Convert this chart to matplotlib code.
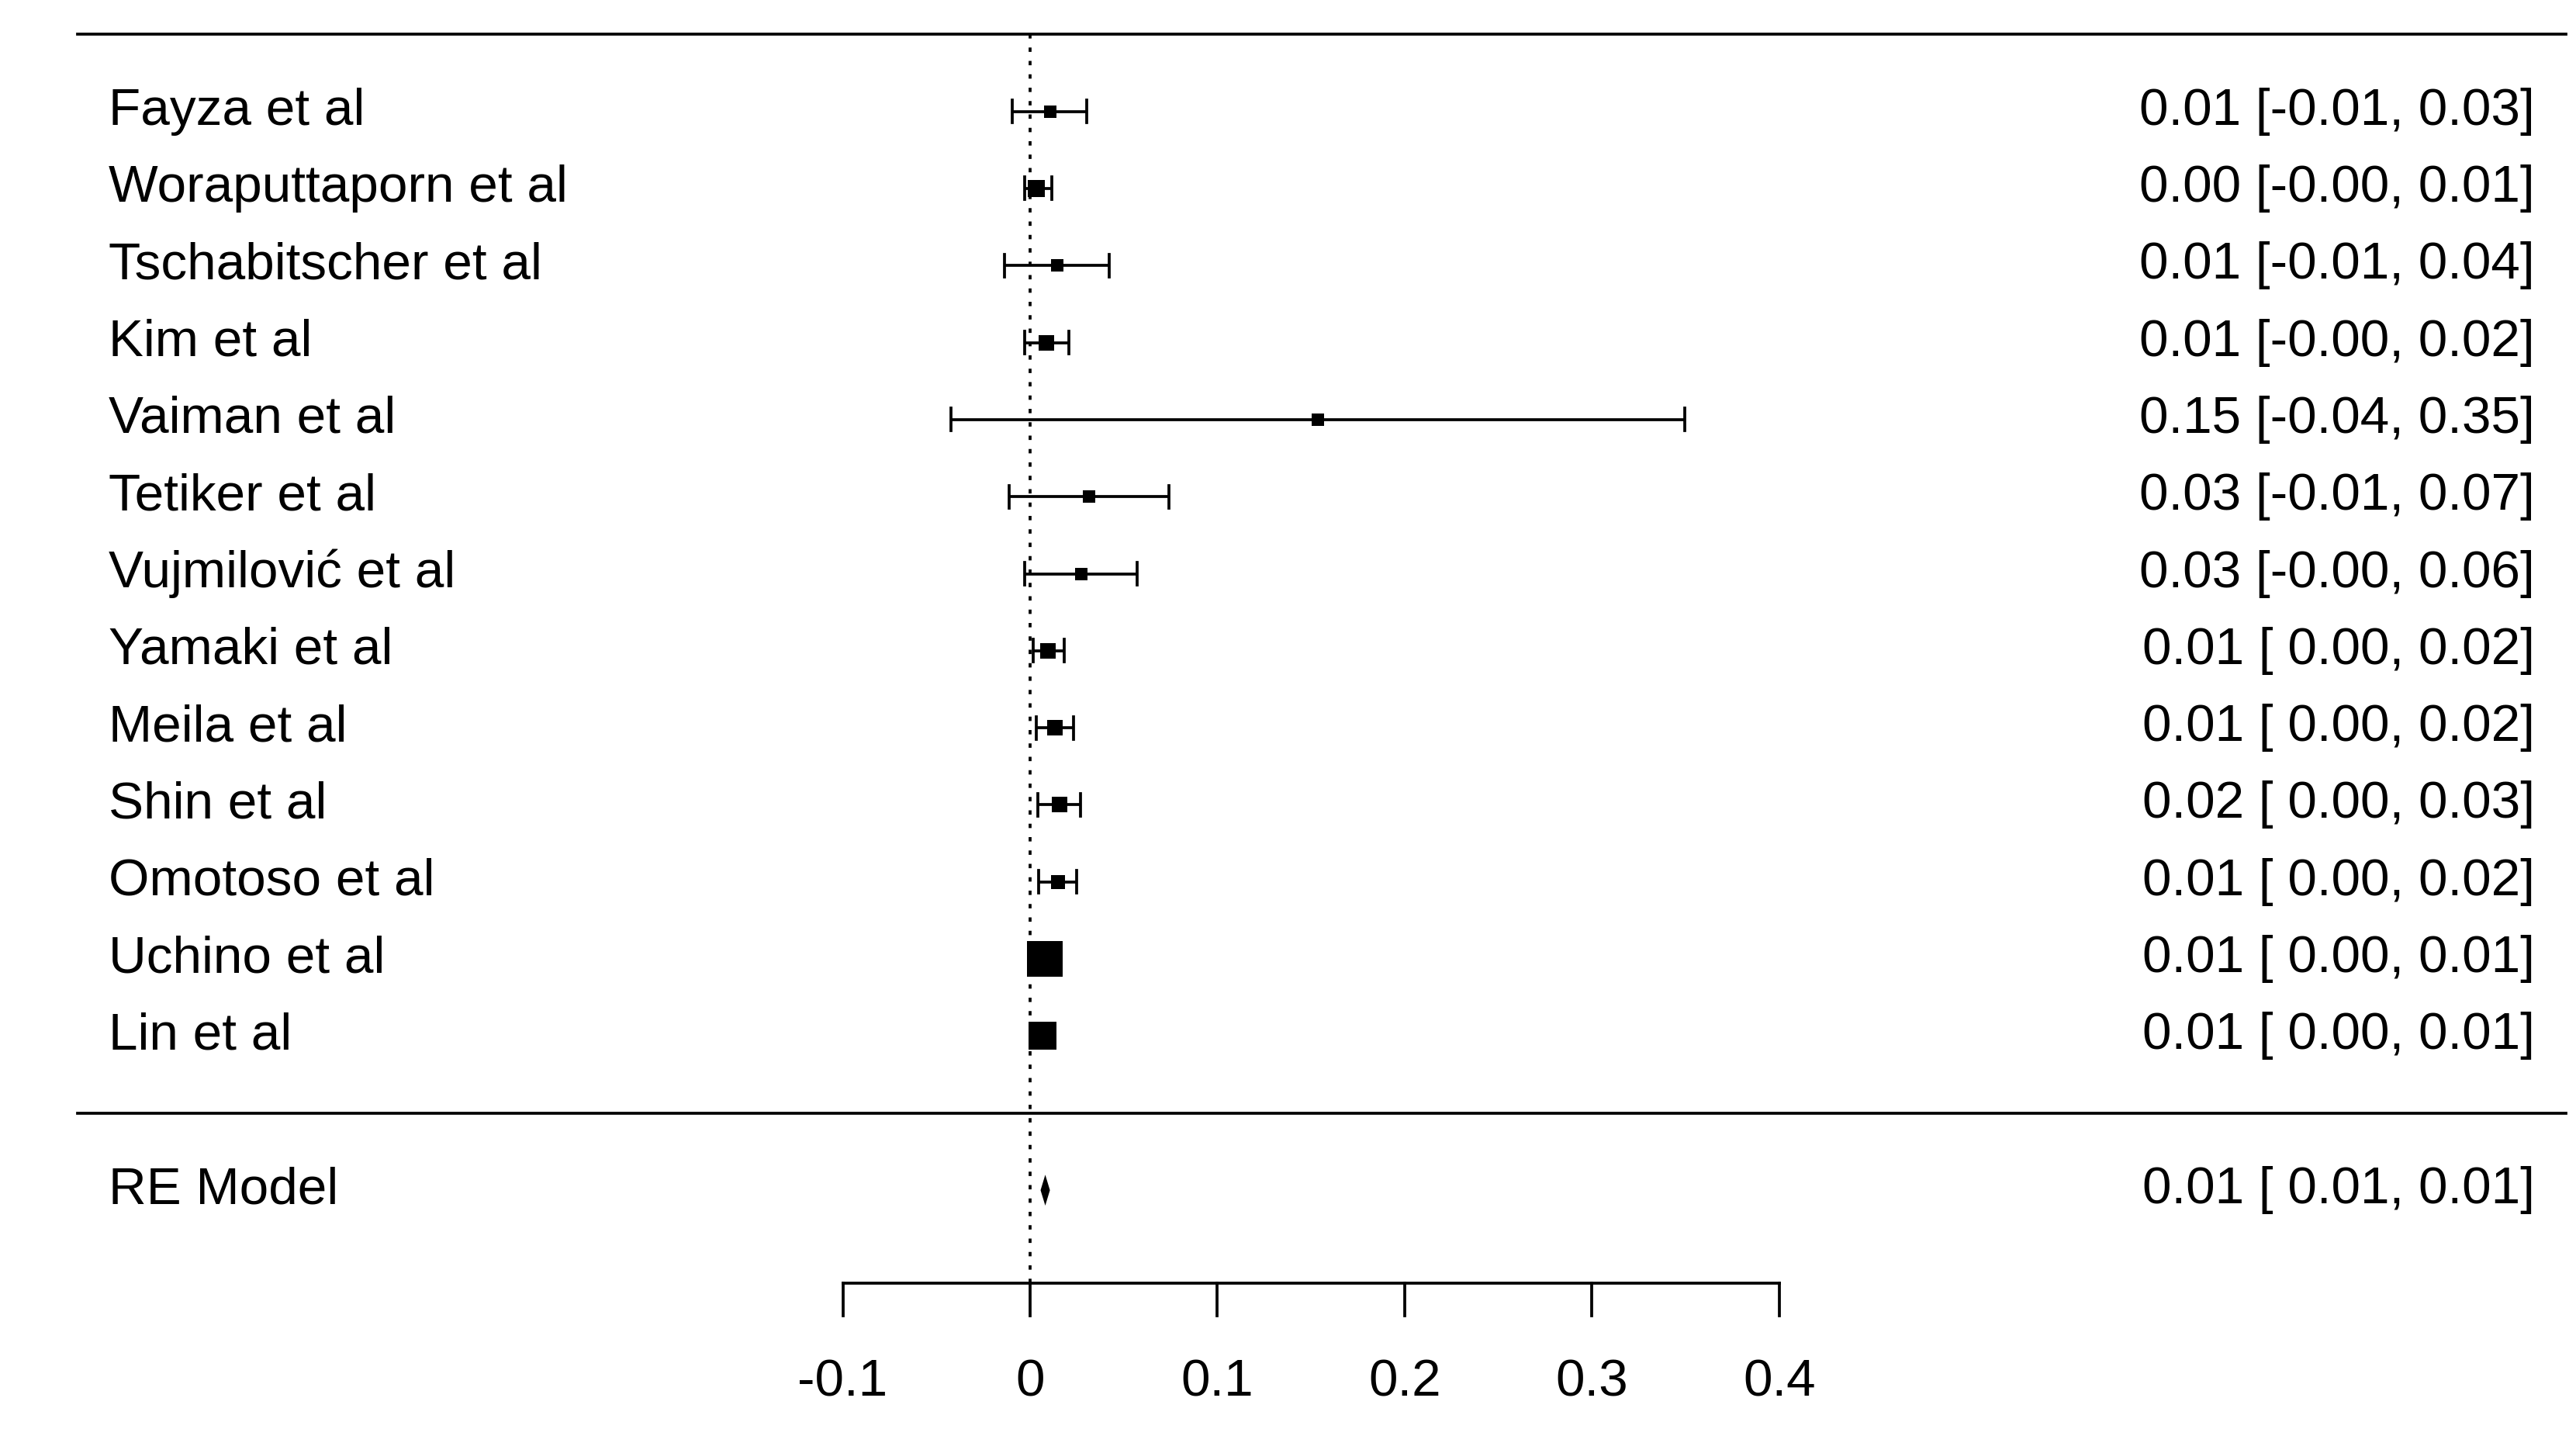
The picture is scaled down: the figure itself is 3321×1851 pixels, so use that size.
import matplotlib.pyplot as plt

# Study data (estimate and 95% CI)
studies = ["Fayza et al", "Woraputtaporn et al", "Tschabitscher et al", "Kim et al",
           "Vaiman et al", "Tetiker et al", "Vujmilović et al", "Yamaki et al",
           "Meila et al", "Shin et al", "Omotoso et al", "Uchino et al", "Lin et al"]
est = [0.0106, 0.0035, 0.0146, 0.0086, 0.1537, 0.0316, 0.0272,
       0.0097, 0.0131, 0.0157, 0.0148, 0.0079, 0.0066]
ci_lb = [-0.0096, -0.0030, -0.0138, -0.0030, -0.0421, -0.0112, -0.0027,
         0.0015, 0.0034, 0.0042, 0.0045, 0.0046, 0.0035]
ci_ub = [0.0304, 0.0114, 0.0423, 0.0207, 0.3497, 0.0740, 0.0572,
         0.0184, 0.0231, 0.0269, 0.0248, 0.0112, 0.0095]
# relative study weights (from the box sizes)
weights = [70, 280, 64, 153, 10, 34, 40, 188, 177, 161, 110, 1200, 807]

# pooled random-effects estimate
re_label = "RE Model"
re_est, re_lb, re_ub = 0.0081, 0.0056, 0.0106

x_ticks = [-0.1, 0, 0.1, 0.2, 0.3, 0.4]
x_ticklabels = ["-0.1", "0", "0.1", "0.2", "0.3", "0.4"]

plt.rcParams['font.family'] = ['Liberation Sans', 'DejaVu Sans']
FS = 16.2
LW = 0.9

fig = plt.figure(figsize=(3321 / 300, 1851 / 300), dpi=300)
ax = fig.add_axes([0, 0, 1, 1])
ax.set_xlim(-0.54994, 0.82533)
ax.set_ylim(-4.19, 14.445)
ax.axis("off")

k = len(studies)
rows = list(range(k, 0, -1))

# box sizes like metafor: scaled to [0.5, 1.5]
wmin, wmax = min(weights), max(weights)
psize = [0.5 + (w - wmin) / (wmax - wmin) for w in weights]

x_left, x_right = -0.5087, 0.8200
x_lab, x_txt = -0.492, 0.8034

ax.plot([x_left, x_right], [k + 1, k + 1], color="black", lw=LW)
ax.plot([x_left, x_right], [0, 0], color="black", lw=LW)

axis_y = -2.21
tick_len = 0.42
ax.plot([0, 0], [k + 1, axis_y], color="black", lw=LW,
        linestyle=(0, (1.5, 3.1)))

cap = 0.146
lb_strs = [f"{v:.2f}" for v in ci_lb]
lb_w = max(len(s) for s in lb_strs)
for r, name, e, lo, hi, ps in zip(rows, studies, est, ci_lb, ci_ub, psize):
    ax.plot([lo, hi], [r, r], color="black", lw=LW, solid_capstyle="butt")
    ax.plot([lo, lo], [r - cap, r + cap], color="black", lw=LW)
    ax.plot([hi, hi], [r - cap, r + cap], color="black", lw=LW)
    ax.plot([e], [r], marker="s", color="black", markersize=ps * 7.392,
            markeredgewidth=0, linestyle="none")
    ax.text(x_lab, r, name, ha="left", va="center", fontsize=FS)
    txt = f"{e:.2f} [{lo:{lb_w}.2f}, {hi:.2f}]"
    ax.text(x_txt, r, txt, ha="right", va="center", fontsize=FS)

# summary diamond
ax.fill([re_lb, re_est, re_ub, re_est], [-1, -0.8, -1, -1.2],
        color="black", lw=0)
ax.text(x_lab, -1, re_label, ha="left", va="center", fontsize=FS)
ax.text(x_txt, -1, f"{re_est:.2f} [{re_lb:{lb_w}.2f}, {re_ub:.2f}]",
        ha="right", va="center", fontsize=FS)

# x axis drawn by hand, like base R
ax.plot([x_ticks[0], x_ticks[-1]], [axis_y, axis_y], color="black", lw=LW)
for t, lab in zip(x_ticks, x_ticklabels):
    ax.plot([t, t], [axis_y, axis_y - tick_len], color="black", lw=LW)
    ax.text(t, -3.50, lab, ha="center", va="center", fontsize=FS)

fig.savefig("out.png", dpi=300)
